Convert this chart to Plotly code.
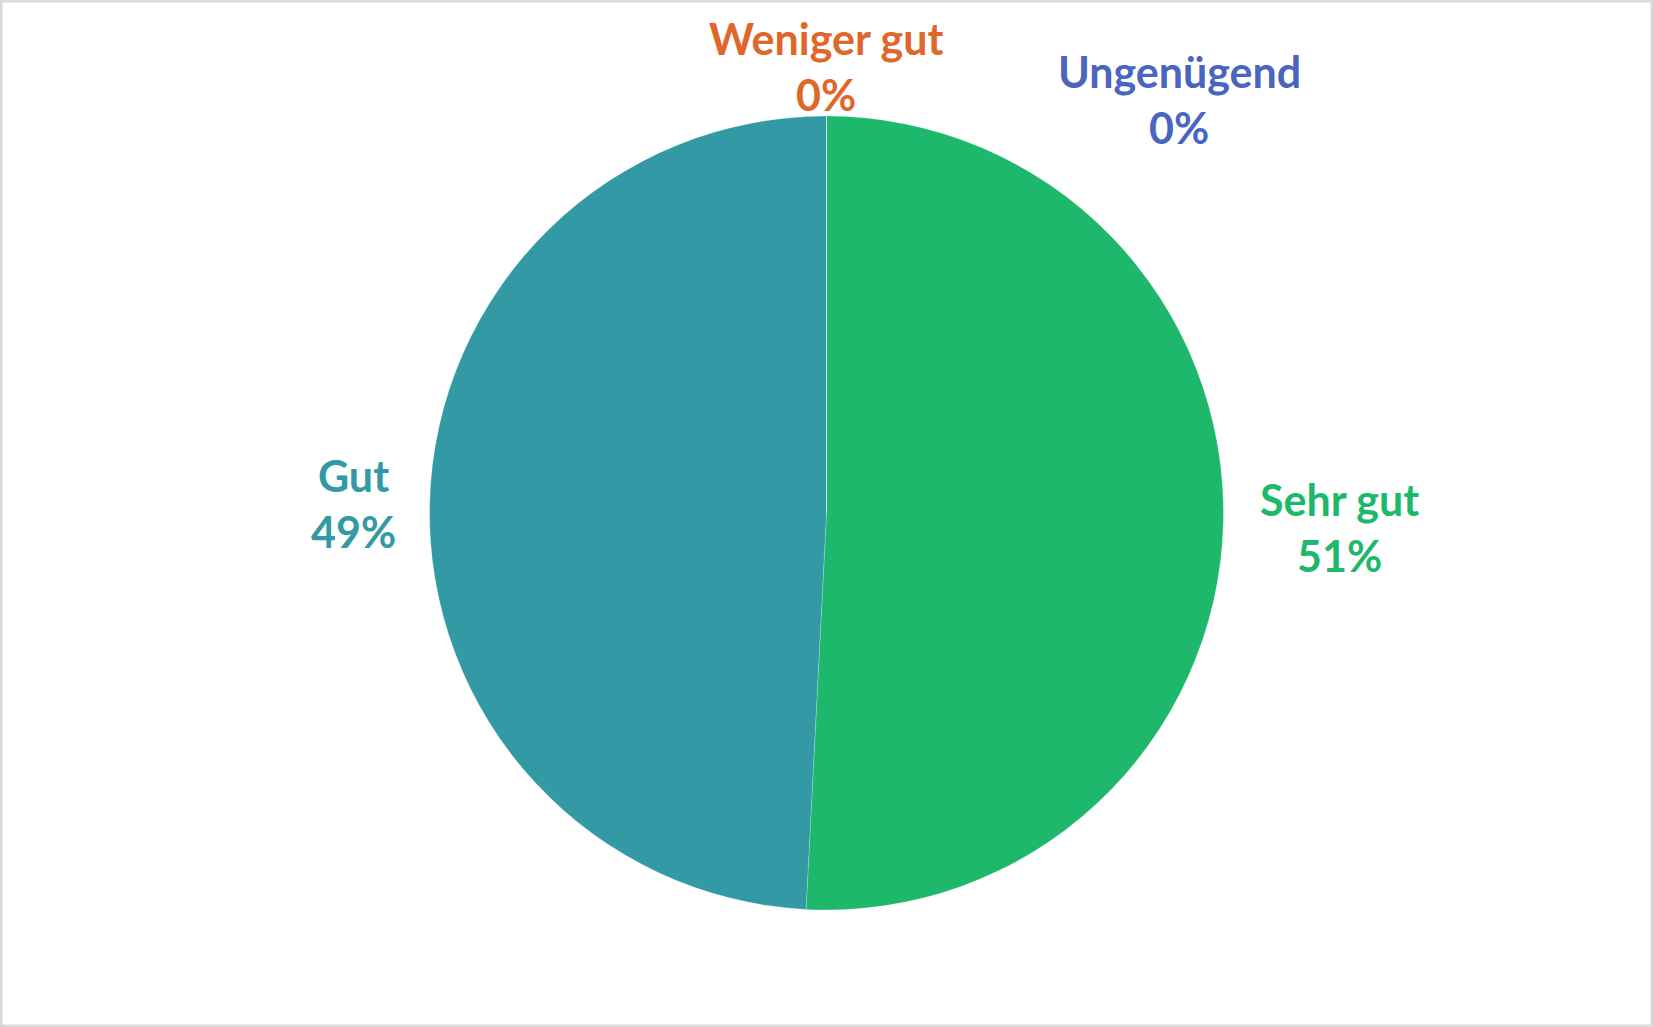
import plotly.graph_objects as go

# Bewertung der Antworten
categories = ["Sehr gut", "Gut", "Weniger gut", "Ungenügend"]
counts = [31, 30, 0, 0]
colors = ["#1db86b", "#339aa5", "#e0672a", "#4a65c0"]

# label positions in pixels (x center, y of first line) on the 1653x1027 canvas
label_pos = {
    "Sehr gut": (1339, 499),
    "Gut": (353, 475),
    "Weniger gut": (826, 39),
    "Ungenügend": (1179, 71),
}

W, H = 1653, 1027
font_name = "Lato"
font_size = 43
line_step = 56

fig = go.Figure()
fig.add_trace(go.Pie(
    labels=categories,
    values=counts,
    sort=False,
    direction="clockwise",
    rotation=0,
    textinfo="none",
    hoverinfo="label+percent",
    marker=dict(colors=colors, line=dict(color="rgba(255,255,255,0.2)", width=1)),
    domain=dict(x=[0.2595, 0.7405], y=[0.114, 0.887]),
    showlegend=False,
))

total = sum(counts)
for cat, val, col in zip(categories, counts, colors):
    px_x, px_y = label_pos[cat]
    pct = "{:.0f}%".format(val / total * 100)
    for i, txt in enumerate([cat, pct]):
        fig.add_annotation(
            x=px_x / W, y=1 - (px_y + i * line_step) / H,
            xref="paper", yref="paper",
            text=txt, showarrow=False,
            xanchor="center", yanchor="middle",
            font=dict(family=font_name, size=font_size, color=col, weight="bold"),
        )

# grey frame round the chart area
fig.add_shape(type="rect", xref="paper", yref="paper", x0=0, y0=0, x1=1, y1=1,
              line=dict(color="#d9d9d9", width=5))

fig.update_layout(
    width=W, height=H,
    margin=dict(l=0, r=0, t=0, b=0),
    paper_bgcolor="white",
    plot_bgcolor="white",
)

# drop the default page margin so the frame sits on the window edge
fig.write_html("out.html", config={"displayModeBar": False},
               post_script="document.body.style.margin='0';")
